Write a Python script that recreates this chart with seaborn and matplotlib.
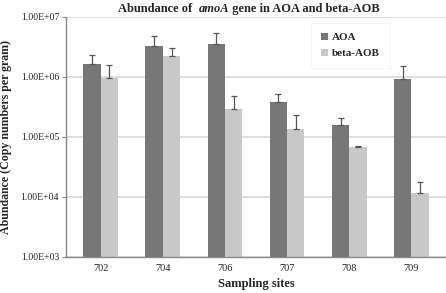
import matplotlib
matplotlib.use("Agg")
import matplotlib.pyplot as plt
import seaborn as sns
import pandas as pd
import numpy as np
from matplotlib.patches import Patch

sites = ["702", "704", "706", "707", "708", "709"]
aoa = [1.65e6, 3.3e6, 3.6e6, 3.8e5, 1.58e5, 9.2e5]
aoa_err = [0.65e6, 1.6e6, 1.9e6, 1.4e5, 0.52e5, 5.8e5]
aob = [9.5e5, 2.2e6, 2.9e5, 1.38e5, 6.8e4, 1.15e4]
aob_err = [6.5e5, 0.9e6, 2.0e5, 0.92e5, 0.2e4, 0.65e4]
groups = ["AOA", "beta-AOB"]
colors = ["#777777", "#c8c8c8"]
yticks = [1e3, 1e4, 1e5, 1e6, 1e7]
ytick_labels = ["1.00E+03", "1.00E+04", "1.00E+05", "1.00E+06", "1.00E+07"]

sns.set_theme(style="white")
plt.rcParams["font.family"] = ["Liberation Serif", "DejaVu Serif"]

df = pd.DataFrame({
    "site": sites * 2,
    "value": aoa + aob,
    "err": aoa_err + aob_err,
    "group": [groups[0]] * len(sites) + [groups[1]] * len(sites),
})

fig = plt.figure(figsize=(4.46, 2.93), dpi=100)
ax = fig.add_axes([0.148, 0.123, 0.852, 0.819])

sns.barplot(data=df, x="site", y="value", hue="group", palette=colors,
            width=0.56, ax=ax, errorbar=None, legend=False,
            edgecolor="none", linewidth=0, saturation=1)
ax.set_yscale("log")
ax.set_ylim(1e3, 1e7)

for cont, vals, errs in zip(ax.containers, [aoa, aob], [aoa_err, aob_err]):
    for bar, v, e in zip(cont, vals, errs):
        xc = bar.get_x() + bar.get_width() / 2
        ax.errorbar([xc], [v], yerr=[[0], [e]], fmt="none", ecolor="#555555",
                    elinewidth=0.9, capsize=2, capthick=0.9, zorder=3)

ax.set_yticks(yticks)
ax.set_yticklabels(ytick_labels)
ax.yaxis.set_minor_locator(matplotlib.ticker.NullLocator())
ax.tick_params(axis="y", labelsize=7, length=3, width=0.8, color="#888888", left=True, pad=2)
ax.tick_params(axis="x", labelsize=7.5, length=0, pad=5)
ax.grid(axis="y", color="#d9d9d9", linewidth=1.2)
ax.set_axisbelow(True)
for s in ["top", "right"]:
    ax.spines[s].set_visible(False)
for s in ["left", "bottom"]:
    ax.spines[s].set_color("#888888")
    ax.spines[s].set_linewidth(1.0)

ax.set_xlabel("Sampling sites", fontsize=9, fontweight="bold", labelpad=4)
ax.set_ylabel("Abundance (Copy numbers per gram)", fontsize=8.6, fontweight="bold", labelpad=6)

handles = [Patch(facecolor=c, edgecolor="none") for c in colors]
leg = ax.legend(handles, groups, loc="upper left", bbox_to_anchor=(0.63, 1.0),
                frameon=True, fancybox=False,
                prop={"weight": "bold", "size": 8},
                handlelength=0.6, handleheight=0.6, handletextpad=0.4,
                labelspacing=0.6, borderpad=0.9)
leg.get_frame().set_edgecolor("#f2f2f2")
leg.get_frame().set_linewidth(0.8)

t1 = fig.text(0.265, 0.97, "Abundance of  ", fontsize=9, fontweight="bold", va="center", ha="left")
t2 = fig.text(0, 0, "amoA", fontsize=9, fontweight="bold", style="italic", va="center", ha="left",
              transform=None)
fig.canvas.draw()
r = fig.canvas.get_renderer()
bb1 = t1.get_window_extent(r)
t2.set_position((bb1.x1, (bb1.y0 + bb1.y1) / 2))
fig.canvas.draw()
bb2 = t2.get_window_extent(r)
t3 = fig.text(0, 0, " gene in AOA and beta-AOB", fontsize=9, fontweight="bold", va="center", ha="left",
              transform=None)
t3.set_position((bb2.x1, (bb1.y0 + bb1.y1) / 2))

fig.savefig("out.png", dpi=100)
